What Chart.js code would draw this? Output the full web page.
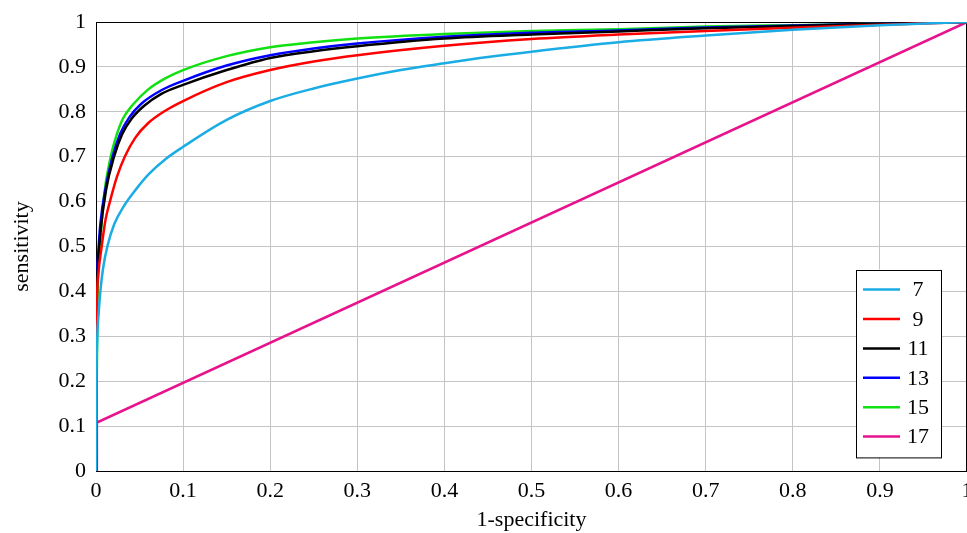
<!DOCTYPE html>
<html>
<head>
<meta charset="utf-8">
<title>ROC curves</title>
<script src="https://cdn.jsdelivr.net/npm/chart.js@4.4.1/dist/chart.umd.min.js"></script>
<style>
    html, body { margin: 0; padding: 0; background: #fff; }
    canvas { display: block; }
</style>
</head>
<body>
<canvas id="rocChart" width="967" height="533"></canvas>
<script>
// tick positions
const xTicks = [0, 0.1, 0.2, 0.3, 0.4, 0.5, 0.6, 0.7, 0.8, 0.9, 1];
const yTicks = [0, 0.1, 0.2, 0.3, 0.4, 0.5, 0.6, 0.7, 0.8, 0.9, 1];

// series names
const seriesNames = ["7", "9", "11", "13", "15", "17"];

// 1-specificity / sensitivity
const fpr7 = [0, 0.0005, 0.0015, 0.003, 0.005, 0.008, 0.013, 0.021, 0.032, 0.045, 0.06, 0.08, 0.1, 0.15, 0.2, 0.25, 0.3, 0.35, 0.4, 0.45, 0.5, 0.6, 0.7, 0.8, 0.9, 1];
const tpr7 = [0, 0.2, 0.3, 0.35, 0.4, 0.45, 0.5, 0.55, 0.59, 0.625, 0.66, 0.695, 0.722, 0.782, 0.824, 0.852, 0.874, 0.893, 0.908, 0.922, 0.934, 0.955, 0.97, 0.983, 0.993, 1];

const fpr9 = [0, 0.0005, 0.0027, 0.0065, 0.011, 0.016, 0.024, 0.033, 0.045, 0.06, 0.08, 0.1, 0.15, 0.2, 0.25, 0.3, 0.4, 0.5, 0.6, 0.7, 0.8, 0.9, 1];
const tpr9 = [0, 0.3, 0.44, 0.5, 0.56, 0.6, 0.655, 0.7, 0.742, 0.775, 0.803, 0.824, 0.866, 0.893, 0.912, 0.926, 0.947, 0.962, 0.972, 0.98, 0.987, 0.994, 1];

const fpr11 = [0, 0.0003, 0.002, 0.005, 0.0115, 0.0207, 0.03, 0.041, 0.055, 0.075, 0.1, 0.15, 0.2, 0.25, 0.3, 0.4, 0.5, 0.6, 0.7, 0.8, 0.9, 1];
const tpr11 = [0, 0.3, 0.45, 0.53, 0.626, 0.7, 0.75, 0.785, 0.813, 0.84, 0.86, 0.893, 0.92, 0.935, 0.946, 0.963, 0.972, 0.979, 0.986, 0.991, 0.996, 1];

const fpr13 = [0, 0.0003, 0.002, 0.005, 0.0115, 0.019, 0.028, 0.038, 0.052, 0.075, 0.1, 0.15, 0.2, 0.25, 0.3, 0.4, 0.5, 0.6, 0.7, 0.8, 0.9, 1];
const tpr13 = [0, 0.32, 0.47, 0.55, 0.635, 0.7, 0.752, 0.787, 0.818, 0.848, 0.869, 0.903, 0.926, 0.941, 0.952, 0.967, 0.976, 0.981, 0.988, 0.992, 0.996, 1];

const fpr15 = [0, 0.0008, 0.002, 0.0046, 0.009, 0.0169, 0.024, 0.031, 0.042, 0.06, 0.08, 0.1, 0.15, 0.2, 0.25, 0.3, 0.4, 0.5, 0.6, 0.7, 0.8, 0.9, 1];
const tpr15 = [0, 0.2, 0.4, 0.5, 0.61, 0.7, 0.75, 0.785, 0.815, 0.85, 0.875, 0.893, 0.924, 0.944, 0.955, 0.963, 0.973, 0.98, 0.984, 0.99, 0.993, 0.996, 1];

const fpr17 = [0, 0.001, 1];
const tpr17 = [0, 0.108, 1];

const seriesX = [fpr7, fpr9, fpr11, fpr13, fpr15, fpr17];
const seriesY = [tpr7, tpr9, tpr11, tpr13, tpr15, tpr17];
const seriesColors = ["#1aace4", "#ff0000", "#000000", "#0000ff", "#11e011", "#e8128c"];

const serif = "'Liberation Serif', 'DejaVu Serif', serif";

function toPoints(xs, ys) {
    return xs.map((x, i) => ({ x: x, y: ys[i] }));
}

// black frame around the plot area
const frameBox = {
    id: "frameBox",
    beforeDatasetsDraw(chart) {
        const { ctx, chartArea } = chart;
        ctx.save();
        ctx.strokeStyle = "#000";
        ctx.lineWidth = 1;
        ctx.strokeRect(chartArea.left + 0.5, chartArea.top + 0.5,
            chartArea.right - chartArea.left - 1, chartArea.bottom - chartArea.top);
        ctx.restore();
    },
};

// legend drawn inside the plot, bottom right
const innerLegend = {
    id: "innerLegend",
    afterDraw(chart) {
        const { ctx, chartArea } = chart;
        const right = chartArea.right - 26;
        const bottom = chartArea.bottom - 14;
        const width = 85;
        const rowH = 29.4;
        const n = chart.data.datasets.length;
        const height = n * rowH + 11;
        const left = right - width;
        const top = bottom - height;

        ctx.save();
        ctx.fillStyle = "#fff";
        ctx.fillRect(left, top, width, height);
        ctx.strokeStyle = "#000";
        ctx.lineWidth = 1;
        ctx.strokeRect(Math.round(left) + 0.5, Math.round(top) + 0.5, width, height);

        ctx.font = "22px " + serif;
        ctx.textAlign = "center";
        ctx.textBaseline = "middle";
        chart.data.datasets.forEach((ds, i) => {
            const y = top + 20 + i * rowH;
            ctx.strokeStyle = ds.borderColor;
            ctx.lineWidth = 2.5;
            ctx.beginPath();
            ctx.moveTo(left + 7, y);
            ctx.lineTo(left + 44, y);
            ctx.stroke();
            ctx.fillStyle = "#000";
            ctx.fillText(ds.label, left + 62, y + 1);
        });
        ctx.restore();
    },
};

new Chart(document.getElementById("rocChart"), {
    type: "scatter",
    data: {
        datasets: seriesNames.map((name, i) => ({
            label: name,
            data: toPoints(seriesX[i], seriesY[i]),
            showLine: true,
            borderColor: seriesColors[i],
            backgroundColor: seriesColors[i],
            borderWidth: 2.5,
            pointRadius: 0,
            // the diagonal one is straight
            cubicInterpolationMode: name === "17" ? "default" : "monotone",
            tension: 0,
            fill: false,
        })),
    },
    options: {
        responsive: false,
        animation: false,
        devicePixelRatio: 1,
        layout: { padding: { top: 22, right: 0, left: 0, bottom: 0 } },
        plugins: {
            legend: { display: false },
            tooltip: { enabled: false },
        },
        scales: {
            x: {
                type: "linear",
                min: 0,
                max: 1,
                afterBuildTicks: (scale) => {
                    scale.ticks = xTicks.map((v) => ({ value: v }));
                },
                afterFit: (scale) => {
                    scale.height = 62;
                    scale.paddingLeft = 0;
                    scale.paddingRight = 0;
                },
                ticks: {
                    color: "#000",
                    font: { family: serif, size: 22 },
                    padding: 7,
                    maxRotation: 0,
                    autoSkip: false,
                    callback: (v) => String(v),
                },
                grid: { color: "#c4c4c4", lineWidth: 1, drawTicks: false },
                border: { display: false },
                title: {
                    display: true,
                    text: "1-specificity",
                    color: "#000",
                    font: { family: serif, size: 22 },
                    padding: { top: 2, bottom: 0 },
                },
            },
            y: {
                type: "linear",
                min: 0,
                max: 1,
                afterBuildTicks: (scale) => {
                    scale.ticks = yTicks.map((v) => ({ value: v }));
                },
                afterFit: (scale) => {
                    scale.width = 96;
                    scale.paddingTop = 0;
                    scale.paddingBottom = 0;
                },
                ticks: {
                    color: "#000",
                    font: { family: serif, size: 22 },
                    padding: 10,
                    autoSkip: false,
                    callback: (v) => String(v),
                },
                grid: { color: "#c4c4c4", lineWidth: 1, drawTicks: false },
                border: { display: false },
                title: {
                    display: true,
                    text: "sensitivity",
                    color: "#000",
                    font: { family: serif, size: 22 },
                    padding: { top: 9, bottom: 0 },
                },
            },
        },
    },
    plugins: [frameBox, innerLegend],
});
</script>
</body>
</html>
